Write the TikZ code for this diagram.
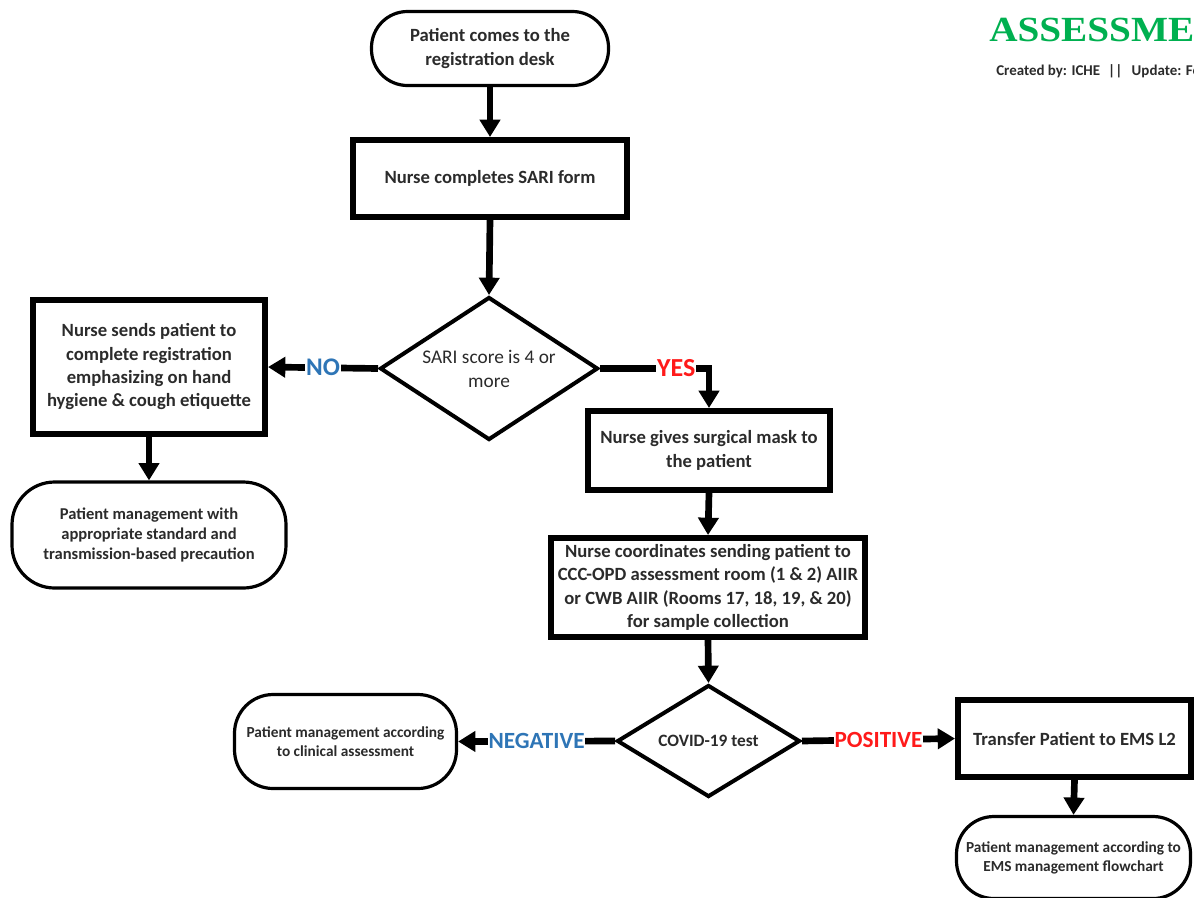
\documentclass[tikz,border=0pt]{standalone}
\usepackage{fontspec}
\setmainfont{Carlito}
\newfontfamily\titlefont{Liberation Serif}
\usetikzlibrary{shapes.geometric,arrows.meta}

\definecolor{txt}{HTML}{2B2B2B}
\definecolor{noblue}{HTML}{2E75B6}
\definecolor{yesred}{HTML}{FF1A1A}
\definecolor{titlegreen}{HTML}{00B050}

\newcommand\mainfs{\fontsize{14pt}{17.5pt}\selectfont\bfseries}
\newcommand\smallfs{\fontsize{12.4pt}{15pt}\selectfont\bfseries}
\newcommand\tinyfs{\fontsize{11.5pt}{14.2pt}\selectfont\bfseries}

\tikzset{
  procbox/.style={draw, line width=4.5pt, fill=white, align=center,
    text=txt, font=\mainfs, inner sep=0pt},
  term/.style={draw, line width=2.4pt, fill=white, align=center,
    text=txt, inner sep=0pt},
  decision/.style={draw, diamond, line width=3pt, fill=white, inner sep=0pt},
  dtext/.style={align=center, text=txt, inner sep=0pt},
  flow/.style={line width=5pt, -{Triangle[width=15pt,length=13pt]}},
  branchlbl/.style={fill=white, inner sep=0.6pt, font=\bfseries},
}

\begin{document}
\begin{tikzpicture}[x=0.75pt, y=-0.75pt]
  \clip (0,0) rectangle (1194,897);
  \fill[white] (0,0) rectangle (1194,897);

  % heading in the top right corner
  \node[anchor=base west, inner sep=0pt, text=titlegreen, xscale=1.11,
        font=\titlefont\bfseries\fontsize{26.5pt}{30pt}\selectfont]
        (title) at (989,41) {ASSESSMEN};
  \node[anchor=base west, inner sep=0pt, text=txt,
        font=\fontsize{11.2pt}{12pt}\selectfont\bfseries]
        (credit) at (996,75) {Created by: ICHE\hspace{6pt}||\hspace{7pt}Update: Fo};

  % process steps
  \node[term, rounded corners=27pt, minimum width=177.75pt, minimum height=55.5pt,
        font=\mainfs] (start) at (490,48.5)
        {Patient comes to the\\registration desk};
  \node[procbox, minimum width=205.5pt, minimum height=57.75pt]
        (sari) at (490,178.5) {Nurse completes SARI form};
  \node[decision, minimum width=163.5pt, minimum height=107.25pt]
        (score) at (489,368.5) {};
  \node[dtext, font=\fontsize{14.5pt}{18pt}\selectfont] (scoretxt) at (score.center)
        {SARI score is 4 or\\more};
  \node[procbox, minimum width=174pt, minimum height=100.5pt]
        (register) at (149,367)
        {Nurse sends patient to\\complete registration\\emphasizing on hand\\hygiene \& cough etiquette};
  \node[term, rounded corners=32pt, minimum width=205.5pt, minimum height=79.5pt,
        font=\smallfs] (standard) at (149,535)
        {Patient management with\\appropriate standard and\\transmission-based precaution};
  \node[procbox, minimum width=181.5pt, minimum height=59.25pt]
        (mask) at (709,450.5) {Nurse gives surgical mask to\\the patient};
  \node[procbox, minimum width=235.5pt, minimum height=74.25pt]
        (coord) at (708,587.5)
        {Nurse coordinates sending patient to\\CCC-OPD assessment room (1 \& 2) AIIR\\or CWB AIIR (Rooms 17, 18, 19, \& 20)\\for sample collection};
  \node[decision, minimum width=137.25pt, minimum height=84pt]
        (covid) at (708.5,741) {};
  \node[dtext, font=\fontsize{13pt}{16pt}\selectfont\bfseries] (covidtxt)
        at (covid.center) {COVID-19 test};
  \node[term, rounded corners=29pt, minimum width=166.5pt, minimum height=70.5pt,
        font=\tinyfs] (clinical) at (345.5,741.5)
        {Patient management according\\to clinical assessment};
  \node[procbox, minimum width=174.75pt, minimum height=57.75pt]
        (transfer) at (1074.5,738.5) {Transfer Patient to EMS L2};
  \node[term, rounded corners=28pt, minimum width=175.5pt, minimum height=61.5pt,
        font=\tinyfs] (ems) at (1073.5,857.5)
        {Patient management according to\\EMS management flowchart};

  % connectors
  \draw[flow] (start.south) -- (sari.north);
  \draw[flow] (sari.south) -- (score.north);
  \draw[flow] (score.west) -- node[branchlbl, text=noblue,
        font=\bfseries\fontsize{19pt}{20pt}\selectfont] (nolbl) {NO} (register.east);
  \draw[flow] (score.east) -| node[pos=0.35, branchlbl, text=yesred,
        font=\bfseries\fontsize{19.5pt}{20pt}\selectfont] (yeslbl) {YES} (mask.north);
  \draw[flow] (register.south) -- (standard.north);
  \draw[flow] (mask.south) -- (coord.north);
  \draw[flow] (coord.south) -- (covid.north);
  \draw[flow] (covid.west) -- node[branchlbl, text=noblue,
        font=\bfseries\fontsize{17.4pt}{18pt}\selectfont] (neglbl) {NEGATIVE} (clinical.east);
  \draw[flow] (covid.east) -- node[branchlbl, text=yesred,
        font=\bfseries\fontsize{17.4pt}{18pt}\selectfont] (poslbl) {POSITIVE} (transfer.west);
  \draw[flow] (transfer.south) -- (ems.north);
\end{tikzpicture}
\end{document}
